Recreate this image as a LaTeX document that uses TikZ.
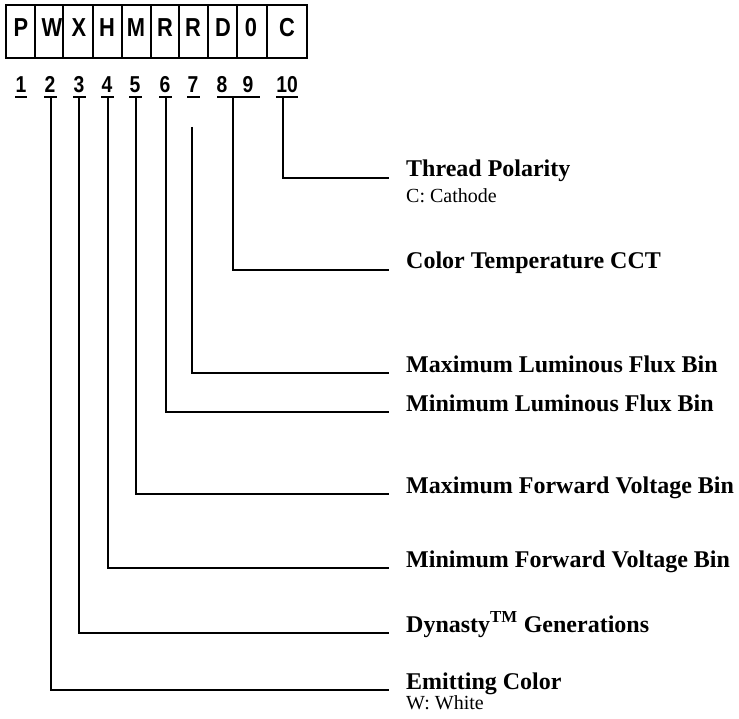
\documentclass[tikz,border=0pt]{standalone}
\usepackage{fontspec}
\setmainfont{Liberation Serif}
\newfontfamily\boxfont{Liberation Sans}
\newcommand{\nar}[1]{\scalebox{0.84}[1]{#1}}
\begin{document}
\begin{tikzpicture}[x=1pt,y=-1pt,
  cell/.style={inner sep=0pt,anchor=base,font=\boxfont\bfseries\fontsize{26}{26}\selectfont},
  num/.style={inner sep=0pt,anchor=base,font=\boxfont\bfseries\fontsize{23}{23}\selectfont},
  uline/.style={line width=1.8pt},
  conn/.style={line width=1.4pt},
  lab/.style={inner sep=0pt,anchor=base west,font=\bfseries\fontsize{24}{24}\selectfont},
  sub/.style={inner sep=0pt,anchor=base west,font=\fontsize{20}{20}\selectfont}]
\useasboundingbox (0,0) rectangle (739,719);
% code box
\draw[line width=1.8pt] (6,5) rectangle (307,58);
\foreach \xx in {35,63,93,122,151,179,208,237,267}
  \draw[line width=1.8pt] (\xx,5) -- (\xx,58);
\node[cell] (c1) at (21,37) {\nar{P}};
\node[cell] (c2) at (52,37) {\nar{W}};
\node[cell] (c3) at (79,37) {\nar{X}};
\node[cell] (c4) at (107,37) {\nar{H}};
\node[cell] (c5) at (136,37) {\nar{M}};
\node[cell] (c6) at (165,37) {\nar{R}};
\node[cell] (c7) at (193,37) {\nar{R}};
\node[cell] (c8) at (223,37) {\nar{D}};
\node[cell] (c9) at (251,37) {\nar{0}};
\node[cell] (c10) at (287,37) {\nar{C}};
% numbers
\node[num] (n1) at (21,93) {\nar{1}};
\node[num] (n2) at (50,93) {\nar{2}};
\node[num] (n3) at (79,93) {\nar{3}};
\node[num] (n4) at (107,93) {\nar{4}};
\node[num] (n5) at (135,93) {\nar{5}};
\node[num] (n6) at (165,93) {\nar{6}};
\node[num] (n7) at (193,93) {\nar{7}};
\node[num] (n8) at (222,93) {\nar{8}};
\node[num] (n9) at (248,93) {\nar{9}};
\node[num] (n10) at (287,93) {\nar{10}};
% underlines
\draw[uline] (15,97) -- (27,97);
\draw[uline] (44,97) -- (57,97);
\draw[uline] (73,97) -- (86,97);
\draw[uline] (101,97) -- (114,97);
\draw[uline] (129,97) -- (142,97);
\draw[uline] (159,97) -- (172,97);
\draw[uline] (187,97) -- (200,97);
\draw[uline] (217,97) -- (260,97);
\draw[uline] (276,97) -- (298,97);
% start and end coordinates
\coordinate (s10) at (283,97);  \coordinate (e10) at (389,178);
\coordinate (s8) at (233,97);   \coordinate (e8) at (389,270);
\coordinate (s7) at (192,127);  \coordinate (e7) at (389,373);
\coordinate (s6) at (166,97);   \coordinate (e6) at (389,412);
\coordinate (s5) at (136,97);   \coordinate (e5) at (389,494);
\coordinate (s4) at (108,97);   \coordinate (e4) at (389,568);
\coordinate (s3) at (79,97);    \coordinate (e3) at (389,633);
\coordinate (s2) at (51,97);    \coordinate (e2) at (389,690);
\foreach \k in {10,8,7,6,5,4,3,2}
  \draw[conn] (s\k) |- (e\k);
% labels
\node[lab] (l10) at (406,177) {Thread Polarity};
\node[sub] (d10) at (406,203) {C: Cathode};
\node[lab] (l8) at (406,269) {Color Temperature CCT};
\node[lab] (l7) at (406,372) {Maximum Luminous Flux Bin};
\node[lab] (l6) at (406,411) {Minimum Luminous Flux Bin};
\node[lab] (l5) at (406,493) {Maximum Forward Voltage Bin};
\node[lab] (l4) at (406,567) {Minimum Forward Voltage Bin};
\node[lab] (l3) at (406,632) {Dynasty\textsuperscript{TM} Generations};
\node[lab] (l2) at (406,689) {Emitting Color};
\node[sub] (d2) at (406,709) {W: White};
\end{tikzpicture}
\end{document}
